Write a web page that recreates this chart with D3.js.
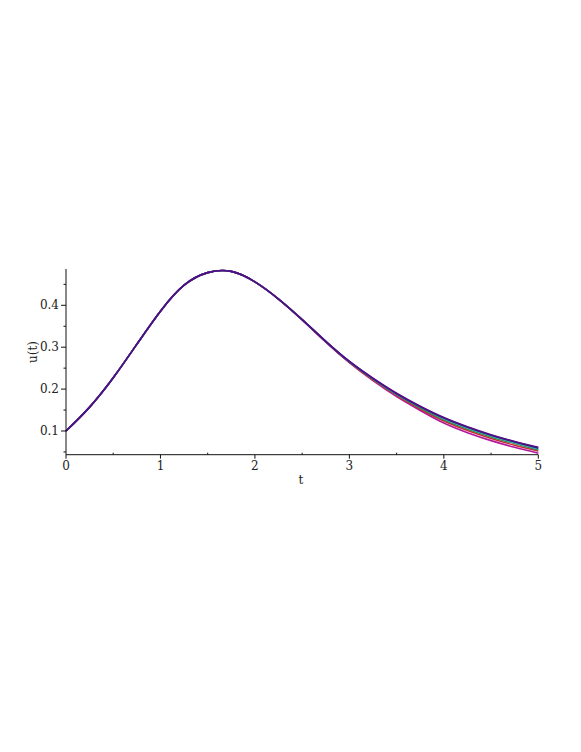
<!DOCTYPE html>
<html>
<head>
<meta charset="utf-8">
<script src="https://cdn.jsdelivr.net/npm/d3@7"></script>
<style>
  body { margin: 0; background: #fff; }
  svg { display: block; }
  text { font-family: "DejaVu Serif", serif; font-size: 12px; fill: #222; }
</style>
</head>
<body>
<svg id="drawing_region"></svg>
<script>
// sample times
const tValues = [0, 0.25, 0.5, 0.75, 1, 1.25, 1.5, 1.75, 2, 2.25, 2.5, 2.75, 3, 3.25, 3.5, 3.75, 4, 4.25, 4.5, 4.75, 5];

// u(t) for each curve
const uMagenta = [0.100, 0.157, 0.227, 0.307, 0.386, 0.448, 0.478, 0.481, 0.456, 0.415, 0.365, 0.312, 0.263, 0.220, 0.182, 0.149, 0.119, 0.096, 0.077, 0.061, 0.047];
const uRed     = [0.100, 0.157, 0.227, 0.307, 0.386, 0.448, 0.478, 0.481, 0.456, 0.415, 0.366, 0.313, 0.264, 0.222, 0.185, 0.152, 0.124, 0.101, 0.082, 0.066, 0.052];
const uGreen   = [0.100, 0.157, 0.227, 0.307, 0.386, 0.448, 0.478, 0.481, 0.456, 0.415, 0.366, 0.314, 0.265, 0.224, 0.187, 0.155, 0.127, 0.105, 0.086, 0.070, 0.055];
const uTeal    = [0.100, 0.157, 0.227, 0.307, 0.386, 0.448, 0.478, 0.481, 0.456, 0.415, 0.366, 0.314, 0.266, 0.225, 0.188, 0.157, 0.129, 0.107, 0.088, 0.072, 0.057];
const uNavy    = [0.100, 0.157, 0.227, 0.307, 0.386, 0.448, 0.478, 0.481, 0.456, 0.415, 0.366, 0.314, 0.266, 0.225, 0.189, 0.158, 0.131, 0.109, 0.090, 0.074, 0.059];
const uPurple  = [0.100, 0.157, 0.227, 0.307, 0.386, 0.448, 0.478, 0.481, 0.456, 0.415, 0.366, 0.314, 0.266, 0.226, 0.190, 0.159, 0.132, 0.110, 0.091, 0.075, 0.061];

const seriesValues = [uMagenta, uRed, uGreen, uTeal, uNavy, uPurple];
const seriesColors = ["#b0189c", "#d0283c", "#2a8a46", "#4ab4b4", "#202a80", "#560c88"];

const xTickLabels = [0, 1, 2, 3, 4, 5];
const yTickLabels = [0.1, 0.2, 0.3, 0.4];

const width = 581, height = 752;
const xRange = [66, 538.3];
const yTop = 269, yBottom = 454.7;

const svg = d3.select('#drawing_region')
    .attr('width', width)
    .attr('height', height);

const x = d3.scaleLinear().domain([0, 5]).range(xRange);
// 0.1 -> 431, 0.4 -> 305.3
const y = d3.scaleLinear().domain([0.1, 0.4]).range([431, 305.3]);

// curves
const line = d3.line()
    .x((d, i) => x(tValues[i]))
    .y(d => y(d))
    .curve(d3.curveNatural);

svg.append('g')
    .selectAll('path')
    .data(seriesValues)
    .enter()
    .append('path')
    .attr('d', d => line(d))
    .attr('fill', 'none')
    .attr('stroke', (d, i) => seriesColors[i])
    .attr('stroke-width', 1.6);

// axes
const axisColor = '#111';

svg.append('line')
    .attr('x1', xRange[0]).attr('x2', xRange[0])
    .attr('y1', yTop).attr('y2', yBottom)
    .attr('stroke', axisColor).attr('stroke-width', 1);

svg.append('line')
    .attr('x1', xRange[0]).attr('x2', xRange[1])
    .attr('y1', yBottom).attr('y2', yBottom)
    .attr('stroke', axisColor).attr('stroke-width', 1);

// x ticks
const xMinor = [0.5, 1.5, 2.5, 3.5, 4.5];
svg.append('g').selectAll('line.xmaj')
    .data(xTickLabels).enter().append('line')
    .attr('x1', d => x(d)).attr('x2', d => x(d))
    .attr('y1', yBottom).attr('y2', yBottom + 4)
    .attr('stroke', axisColor);
svg.append('g').selectAll('line.xmin')
    .data(xMinor).enter().append('line')
    .attr('x1', d => x(d)).attr('x2', d => x(d))
    .attr('y1', yBottom - 2).attr('y2', yBottom)
    .attr('stroke', axisColor);
svg.append('g').selectAll('text')
    .data(xTickLabels).enter().append('text')
    .attr('x', d => x(d))
    .attr('y', 469.5)
    .attr('text-anchor', 'middle')
    .text(d => d);

// y ticks
const yMinor = [0.05, 0.15, 0.25, 0.35, 0.45];
svg.append('g').selectAll('line.ymaj')
    .data(yTickLabels).enter().append('line')
    .attr('x1', xRange[0] - 5).attr('x2', xRange[0])
    .attr('y1', d => y(d)).attr('y2', d => y(d))
    .attr('stroke', axisColor);
svg.append('g').selectAll('line.ymin')
    .data(yMinor).enter().append('line')
    .attr('x1', xRange[0] - 2.5).attr('x2', xRange[0])
    .attr('y1', d => y(d)).attr('y2', d => y(d))
    .attr('stroke', axisColor);
svg.append('g').selectAll('text')
    .data(yTickLabels).enter().append('text')
    .attr('x', 59)
    .attr('y', d => y(d) + 4)
    .attr('text-anchor', 'end')
    .text(d => d.toFixed(1));

// axis titles
svg.append('text')
    .attr('x', 301)
    .attr('y', 484)
    .attr('text-anchor', 'middle')
    .text('t');

svg.append('text')
    .attr('transform', 'translate(37, 352) rotate(-90)')
    .attr('text-anchor', 'middle')
    .text('u(t)');
</script>
</body>
</html>
